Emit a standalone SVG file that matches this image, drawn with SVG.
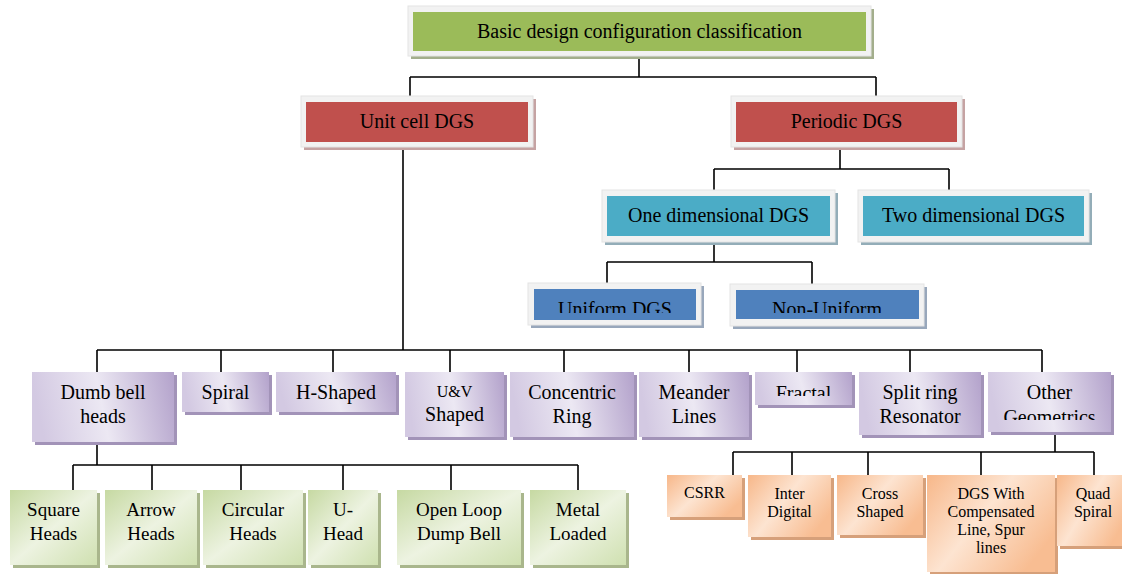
<svg xmlns="http://www.w3.org/2000/svg" width="1122" height="574" viewBox="0 0 1122 574">
<defs>
<style>
text{font-family:"Liberation Serif","Times New Roman",serif;fill:#000;text-anchor:middle}
.t20{font-size:20px}
.t19{font-size:19px}
.t16{font-size:16px}
.frame{fill:#F2F2F2;stroke:#E4E4E4;stroke-width:1}
.sh-g{fill:#A3AE8C}.sh-r{fill:#C5A3A3}.sh-c{fill:#93ADB8}.sh-b{fill:#98A7BB}
.green{fill:#9BBB59}.red{fill:#C0504D}.cyan{fill:#4BACC6}.blue{fill:#4F81BD}
.pur{fill:url(#gP)}.pur-sh{fill:#A293B8}
.grn{fill:url(#gG)}.grn-sh{fill:#A9B68C}
.org{fill:url(#gO)}.org-sh{fill:#D6A07A}
.conn path{fill:none;stroke:#000;stroke-width:1.6}
</style>
<linearGradient id="gP" x1="0" y1="0.1" x2="1" y2="0">
<stop offset="0" stop-color="#D3C9E2"/><stop offset="0.45" stop-color="#ECE8F3"/><stop offset="1" stop-color="#B3A2CB"/>
</linearGradient>
<linearGradient id="gG" x1="0" y1="0" x2="1" y2="1">
<stop offset="0" stop-color="#C6D9A2"/><stop offset="0.5" stop-color="#EDF3E1"/><stop offset="1" stop-color="#CFE0B0"/>
</linearGradient>
<linearGradient id="gO" x1="0" y1="0" x2="1" y2="0.6">
<stop offset="0" stop-color="#F7B789"/><stop offset="0.5" stop-color="#FDE4D1"/><stop offset="1" stop-color="#F8BD92"/>
</linearGradient>
<clipPath id="cUni"><rect x="534" y="289" width="162" height="24"/></clipPath>
<clipPath id="cNon"><rect x="736" y="290" width="183" height="23"/></clipPath>
<clipPath id="cFrac"><rect x="755" y="372" width="97" height="24"/></clipPath>
<clipPath id="cOther"><rect x="988" y="372" width="123" height="48"/></clipPath>
</defs>

<g class="conn" id="connectors">
<path d="M639 56V77M410 77H876M410 77V96M876 77V96"/>
<path d="M403 147V350"/>
<path d="M840 147V169M714 169H949M714 169V190M949 169V190"/>
<path d="M714 242V262M607 262H812M607 262V283M812 262V284"/>
<path d="M97 350H1042M97 350V372M221 350V372M333 350V372M450 350V372M564 350V372M689 350V372M797 350V372M910 350V372M1042 350V372"/>
<path d="M97 442V465M73 465H578M73 465V490M152 465V490M241 465V490M343 465V490M451 465V490M578 465V490"/>
<path d="M1055 432V452M733 452H1094M733 452V475M792 452V475M868 452V475M981 452V475M1094 452V475"/>
</g>

<g id="n-root">
<rect x="411" y="9" width="463" height="50" class="sh-g"/>
<rect x="408" y="6" width="463" height="50" class="frame"/>
<rect x="413" y="12" width="453" height="39" class="green"/>
<text x="639.5" y="38" class="t20">Basic design configuration classification</text>
</g>
<g id="n-unit">
<rect x="304" y="99" width="232" height="51" class="sh-r"/>
<rect x="301" y="96" width="232" height="51" class="frame"/>
<rect x="306" y="102" width="222" height="40" class="red"/>
<text x="417" y="128" class="t20">Unit cell DGS</text>
</g>
<g id="n-periodic">
<rect x="734" y="99" width="231" height="51" class="sh-r"/>
<rect x="731" y="96" width="231" height="51" class="frame"/>
<rect x="736" y="102" width="221" height="40" class="red"/>
<text x="846.5" y="128" class="t20">Periodic DGS</text>
</g>
<g id="n-onedim">
<rect x="605" y="193" width="233" height="52" class="sh-c"/>
<rect x="602" y="190" width="233" height="52" class="frame"/>
<rect x="607" y="196" width="223" height="40" class="cyan"/>
<text x="718.5" y="222" class="t20">One dimensional DGS</text>
</g>
<g id="n-twodim">
<rect x="861" y="193" width="231" height="52" class="sh-c"/>
<rect x="858" y="190" width="231" height="52" class="frame"/>
<rect x="863" y="196" width="221" height="40" class="cyan"/>
<text x="973.5" y="222" class="t20">Two dimensional DGS</text>
</g>
<g id="n-uniform">
<rect x="531" y="286" width="173" height="42" class="sh-b"/>
<rect x="528" y="283" width="173" height="42" class="frame"/>
<rect x="534" y="289" width="162" height="31" class="blue"/>
<text x="615" y="316" class="t20" clip-path="url(#cUni)">Uniform DGS</text>
</g>
<g id="n-nonuniform">
<rect x="733" y="287" width="194" height="42" class="sh-b"/>
<rect x="730" y="284" width="194" height="42" class="frame"/>
<rect x="736" y="290" width="183" height="29" class="blue"/>
<text x="827" y="316" class="t20" clip-path="url(#cNon)">Non-Uniform</text>
</g>

<g id="n-dumbbell">
<rect x="35" y="375" width="142" height="70" class="pur-sh"/>
<rect x="32" y="372" width="142" height="70" class="pur"/>
<text x="103" y="399" class="t20">Dumb bell</text>
<text x="103" y="423" class="t20">heads</text>
</g>
<g id="n-spiral">
<rect x="185" y="375" width="87" height="40" class="pur-sh"/>
<rect x="182" y="372" width="87" height="40" class="pur"/>
<text x="225.5" y="399" class="t20">Spiral</text>
</g>
<g id="n-hshaped">
<rect x="279" y="375" width="120" height="40" class="pur-sh"/>
<rect x="276" y="372" width="120" height="40" class="pur"/>
<text x="336" y="399" class="t20">H-Shaped</text>
</g>
<g id="n-uv">
<rect x="408" y="375" width="99" height="65" class="pur-sh"/>
<rect x="405" y="372" width="99" height="65" class="pur"/>
<text x="454.5" y="397" class="t16">U&amp;V</text>
<text x="454.5" y="421" class="t20">Shaped</text>
</g>
<g id="n-concentric">
<rect x="513" y="375" width="124" height="65" class="pur-sh"/>
<rect x="510" y="372" width="124" height="65" class="pur"/>
<text x="572" y="399" class="t20">Concentric</text>
<text x="572" y="423" class="t20">Ring</text>
</g>
<g id="n-meander">
<rect x="642" y="375" width="110" height="65" class="pur-sh"/>
<rect x="639" y="372" width="110" height="65" class="pur"/>
<text x="694" y="399" class="t20">Meander</text>
<text x="694" y="423" class="t20">Lines</text>
</g>
<g id="n-fractal">
<rect x="758" y="375" width="97" height="33" class="pur-sh"/>
<rect x="755" y="372" width="97" height="33" class="pur"/>
<text x="803.5" y="400" class="t20" clip-path="url(#cFrac)">Fractal</text>
</g>
<g id="n-splitring">
<rect x="862" y="375" width="122" height="63" class="pur-sh"/>
<rect x="859" y="372" width="122" height="63" class="pur"/>
<text x="920" y="399" class="t20">Split ring</text>
<text x="920" y="423" class="t20">Resonator</text>
</g>
<g id="n-other">
<rect x="991" y="375" width="123" height="60" class="pur-sh"/>
<rect x="988" y="372" width="123" height="60" class="pur"/>
<text x="1049.5" y="399" class="t20">Other</text>
<text x="1049.5" y="424" class="t20" clip-path="url(#cOther)">Geometrics</text>
</g>

<g id="n-square">
<rect x="13" y="493" width="87" height="75" class="grn-sh"/>
<rect x="10" y="490" width="87" height="75" class="grn"/>
<text x="53.5" y="516" class="t19">Square</text>
<text x="53.5" y="540" class="t19">Heads</text>
</g>
<g id="n-arrow">
<rect x="108" y="493" width="92" height="75" class="grn-sh"/>
<rect x="105" y="490" width="92" height="75" class="grn"/>
<text x="151" y="516" class="t19">Arrow</text>
<text x="151" y="540" class="t19">Heads</text>
</g>
<g id="n-circular">
<rect x="206" y="493" width="100" height="75" class="grn-sh"/>
<rect x="203" y="490" width="100" height="75" class="grn"/>
<text x="253" y="516" class="t19">Circular</text>
<text x="253" y="540" class="t19">Heads</text>
</g>
<g id="n-uhead">
<rect x="311" y="493" width="70" height="75" class="grn-sh"/>
<rect x="308" y="490" width="70" height="75" class="grn"/>
<text x="343" y="516" class="t19">U-</text>
<text x="343" y="540" class="t19">Head</text>
</g>
<g id="n-openloop">
<rect x="400" y="493" width="124" height="75" class="grn-sh"/>
<rect x="397" y="490" width="124" height="75" class="grn"/>
<text x="459" y="516" class="t19">Open Loop</text>
<text x="459" y="540" class="t19">Dump Bell</text>
</g>
<g id="n-metal">
<rect x="533" y="493" width="96" height="75" class="grn-sh"/>
<rect x="530" y="490" width="96" height="75" class="grn"/>
<text x="578" y="516" class="t19">Metal</text>
<text x="578" y="540" class="t19">Loaded</text>
</g>

<g id="n-csrr">
<rect x="670" y="478" width="75" height="42" class="org-sh"/>
<rect x="667" y="475" width="75" height="42" class="org"/>
<text x="704.5" y="498" class="t16">CSRR</text>
</g>
<g id="n-interdigital">
<rect x="751" y="478" width="83" height="62" class="org-sh"/>
<rect x="748" y="475" width="83" height="62" class="org"/>
<text x="789.5" y="499" class="t16">Inter</text>
<text x="789.5" y="517" class="t16">Digital</text>
</g>
<g id="n-cross">
<rect x="840" y="478" width="86" height="60" class="org-sh"/>
<rect x="837" y="475" width="86" height="60" class="org"/>
<text x="880" y="499" class="t16">Cross</text>
<text x="880" y="517" class="t16">Shaped</text>
</g>
<g id="n-dgswith">
<rect x="930" y="478" width="128" height="97" class="org-sh"/>
<rect x="927" y="475" width="128" height="97" class="org"/>
<text x="991" y="499" class="t16">DGS With</text>
<text x="991" y="517" class="t16">Compensated</text>
<text x="991" y="535" class="t16">Line, Spur</text>
<text x="991" y="553" class="t16">lines</text>
</g>
<g id="n-quad">
<rect x="1060" y="478" width="70" height="71" class="org-sh"/>
<rect x="1057" y="475" width="70" height="71" class="org"/>
<text x="1093" y="499" class="t16">Quad</text>
<text x="1093" y="517" class="t16">Spiral</text>
</g>
</svg>
